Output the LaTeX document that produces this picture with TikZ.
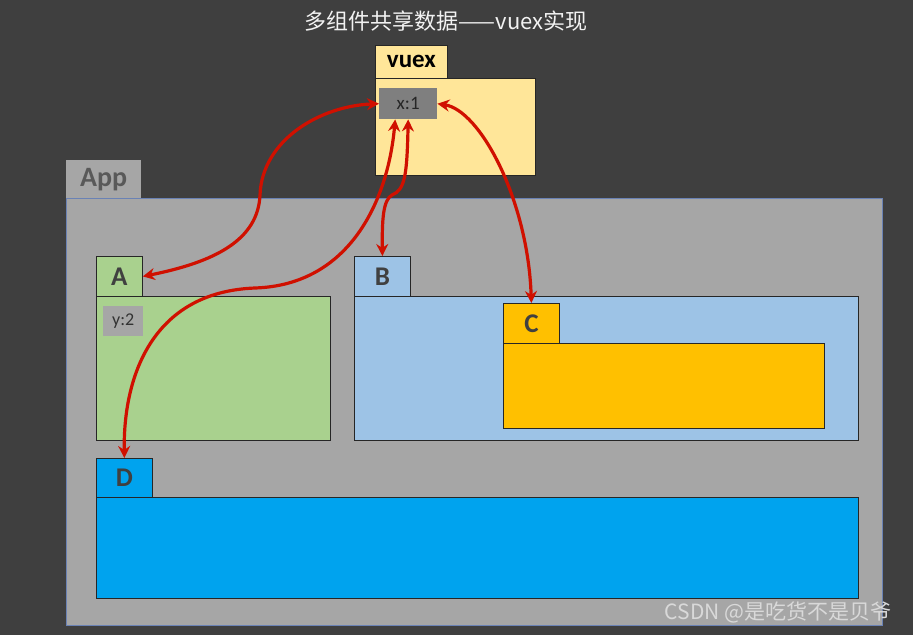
\documentclass[tikz,border=0pt]{standalone}
\usepackage{fontspec}
\setmainfont{Carlito}
\newfontfamily\cjk{Noto Sans CJK SC}
\usetikzlibrary{arrows.meta}
\definecolor{bg}{HTML}{3F3F3F}
\definecolor{panel}{HTML}{A6A6A6}
\definecolor{appline}{HTML}{6A82B5}
\definecolor{vuexc}{HTML}{FFE699}
\definecolor{xgray}{HTML}{7F7F7F}
\definecolor{agreen}{HTML}{A9D18E}
\definecolor{bblue}{HTML}{9DC3E6}
\definecolor{corange}{HTML}{FFC000}
\definecolor{dblue}{HTML}{00A3EE}
\definecolor{txt}{HTML}{404040}
\definecolor{arrowred}{HTML}{D01000}
\begin{document}
\begin{tikzpicture}[x=1pt,y=-1pt,
  box/.style={draw=black!85,line width=0.8pt,anchor=north west,inner sep=0pt},
  tab/.style={box,text=txt,font=\bfseries\fontsize{27}{27}\selectfont},
  link/.style={draw=arrowred,line width=3.2pt,{Stealth[length=12pt,width=12pt]}-{Stealth[length=12pt,width=12pt]}}]
\useasboundingbox (0,0) rectangle (913,635);
\fill[bg] (0,0) rectangle (913,635);
\node[text=white!95!black,font=\cjk\fontsize{22}{22}\selectfont] (title) at (446,21) {多组件共享数据——vuex实现};
\node[box,fill=vuexc,minimum width=160pt,minimum height=97pt] (vuex) at (375,78) {};
\node[box,fill=vuexc,minimum width=72pt,minimum height=33pt,font=\bfseries\fontsize{25}{25}\selectfont] (vuextab) at (375,45) {vuex};
\node[anchor=north west,inner sep=0pt,fill=xgray,text=black!85,minimum width=58pt,minimum height=31pt,font=\fontsize{19}{19}\selectfont] (x1) at (379,88) {x:1};
\node[anchor=north west,inner sep=0pt,fill=panel,text=black!65,minimum width=75pt,minimum height=38pt,font=\bfseries\fontsize{28}{28}\selectfont] (apptab) at (66,160) {App};
\node[anchor=north west,inner sep=0pt,fill=panel,draw=appline,line width=1.3pt,minimum width=816pt,minimum height=427pt] (app) at (66,198) {};
\node[box,fill=agreen,minimum width=234pt,minimum height=144pt] (a) at (96,296) {};
\node[tab,fill=agreen,minimum width=46pt,minimum height=40pt] (atab) at (96,256) {A};
\node[anchor=north west,inner sep=0pt,fill=panel,text=black!80,minimum width=40pt,minimum height=30pt,font=\fontsize{18}{18}\selectfont] (y2) at (103,306) {y:2};
\node[box,fill=bblue,minimum width=504pt,minimum height=144pt] (b) at (354,296) {};
\node[tab,fill=bblue,minimum width=56pt,minimum height=40pt] (btab) at (354,256) {B};
\node[box,fill=corange,minimum width=321pt,minimum height=85pt] (c) at (503,343) {};
\node[tab,fill=corange,minimum width=56pt,minimum height=40pt] (ctab) at (503,303) {C};
\node[box,fill=dblue,minimum width=762pt,minimum height=101pt] (d) at (96,497) {};
\node[tab,fill=dblue,minimum width=56pt,minimum height=39pt] (dtab) at (96,458) {D};
\draw[link] (atab.east) .. controls (215,262) and (258,240) .. (260,195) .. controls (262,140) and (320,106) .. (x1.west);
\draw[link] (dtab.north) .. controls (123,380) and (150,292) .. (255,288) .. controls (350,285) and (388,200) .. ([xshift=-13pt]x1.south);
\draw[link] (btab.north) .. controls (382,220) and (383,200) .. (392,195) .. controls (405,190) and (407,175) .. (x1.south);
\draw[link] (ctab.north) .. controls (528,200) and (480,110) .. (x1.east);
\node[text=white!85!black,font=\cjk\fontsize{21}{21}\selectfont] (mark) at (778,612) {CSDN @是吃货不是贝爷};
\end{tikzpicture}
\end{document}
